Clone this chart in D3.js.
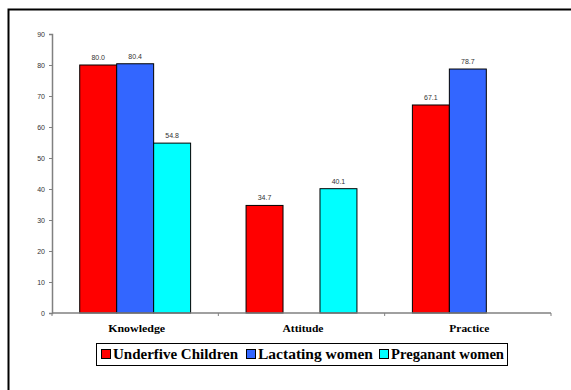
<!DOCTYPE html>
<html>
<head>
<meta charset="utf-8">
<script src="https://cdn.jsdelivr.net/npm/d3@7"></script>
<style>
  html, body { margin: 0; padding: 0; background: #fff; }
  svg { display: block; }
</style>
</head>
<body>
<svg id="chart" width="571" height="390"></svg>
<script>
// Categories, groups and values (percent)
const categories = ["Knowledge", "Attitude", "Practice"];
const seriesNames = ["Underfive Children", "Lactating women", "Preganant women"];
const underfive = [80.0, 34.7, 67.1];
const lactating = [80.4, null, 78.7];
const pregnant  = [54.8, 40.1, null];
const yTicks = [0, 10, 20, 30, 40, 50, 60, 70, 80, 90];
const colors = ["#FF0000", "#3366FF", "#00FFFF"];

const series = [underfive, lactating, pregnant];

const svg = d3.select("#chart");

// outer frame
svg.append("rect")
  .attr("x", 8.5).attr("y", 9.5)
  .attr("width", 600).attr("height", 420)
  .attr("fill", "none").attr("stroke", "#000").attr("stroke-width", 2);

const plot = { left: 52, right: 551, top: 34, bottom: 313 };

const x0 = d3.scaleBand().domain(categories).range([plot.left, plot.right]).paddingInner(0).paddingOuter(0);
const x1 = d3.scaleBand().domain(d3.range(series.length)).range([0, x0.bandwidth()]).paddingOuter(0.75).paddingInner(0);
const y = d3.scaleLinear().domain([0, 90]).range([plot.bottom, plot.top]);

// bars with value labels
categories.forEach((cat, ci) => {
  series.forEach((vals, si) => {
    const v = vals[ci];
    if (v == null) return;
    const bx = x0(cat) + x1(si);
    svg.append("rect")
      .attr("x", bx).attr("y", y(v))
      .attr("width", x1.bandwidth()).attr("height", y(0) - y(v))
      .attr("fill", colors[si]).attr("stroke", "#000").attr("stroke-width", 1);
    svg.append("text")
      .attr("x", bx + x1.bandwidth() / 2).attr("y", y(v) - 5)
      .attr("text-anchor", "middle")
      .attr("font-family", "Liberation Sans, Arial, sans-serif")
      .attr("font-size", 7).attr("fill", "#333")
      .text(v.toFixed(1));
  });
});

// y axis
const yAxis = d3.axisLeft(y).tickValues(yTicks).tickSize(3).tickPadding(4);
const gy = svg.append("g").attr("transform", `translate(${plot.left},0)`).call(yAxis);
gy.select(".domain").attr("stroke", "#808080").attr("stroke-width", 1.5);
gy.selectAll(".tick line").attr("stroke", "#808080");
gy.selectAll(".tick text")
  .attr("font-family", "Liberation Sans, Arial, sans-serif")
  .attr("font-size", 7).attr("fill", "#333");

// x axis: ticks at category boundaries
const boundaries = [plot.left].concat(categories.map(c => x0(c) + x0.bandwidth()));
svg.append("line")
  .attr("x1", plot.left).attr("x2", plot.right)
  .attr("y1", plot.bottom).attr("y2", plot.bottom)
  .attr("stroke", "#808080").attr("stroke-width", 1.5);
svg.selectAll(".xtick").data(boundaries).enter().append("line")
  .attr("x1", d => d).attr("x2", d => d)
  .attr("y1", plot.bottom).attr("y2", plot.bottom + 3)
  .attr("stroke", "#808080");
const catWidths = [57, 41, 40];
svg.selectAll(".xlabel").data(categories).enter().append("text")
  .attr("x", (d, i) => x0(d) + x0.bandwidth() / 2 + 1.5 - catWidths[i] / 2)
  .attr("y", 332)
  .attr("textLength", (d, i) => catWidths[i])
  .attr("lengthAdjust", "spacingAndGlyphs")
  .attr("font-family", "Liberation Serif, serif")
  .attr("font-weight", "bold").attr("font-size", 10).attr("fill", "#000")
  .text(d => d);

// legend
const legend = svg.append("g");
legend.append("rect")
  .attr("x", 96.5).attr("y", 343.5).attr("width", 411).attr("height", 22)
  .attr("fill", "#fff").attr("stroke", "#000").attr("stroke-width", 1);
const legendX = [101, 246, 379];
const legendW = [125, 115, 113];
seriesNames.forEach((name, i) => {
  legend.append("rect")
    .attr("x", legendX[i] + 0.5).attr("y", 349.5).attr("width", 9).attr("height", 9)
    .attr("fill", colors[i]).attr("stroke", "#000").attr("stroke-width", 1);
  legend.append("text")
    .attr("x", legendX[i] + 12).attr("y", 358.5)
    .attr("textLength", legendW[i])
    .attr("lengthAdjust", "spacingAndGlyphs")
    .attr("font-family", "Liberation Serif, serif")
    .attr("font-weight", "bold").attr("font-size", 14).attr("fill", "#000")
    .text(name);
});
</script>
</body>
</html>
